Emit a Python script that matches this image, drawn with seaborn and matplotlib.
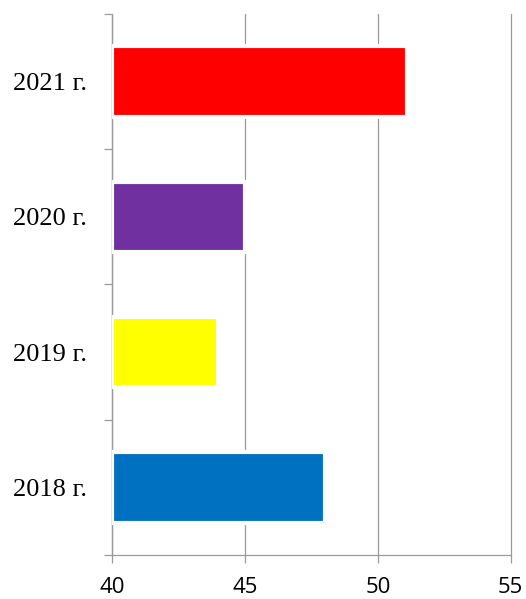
import matplotlib
matplotlib.use("Agg")
import matplotlib.pyplot as plt
import seaborn as sns
import pandas as pd

# data
years = ["2021 г.", "2020 г.", "2019 г.", "2018 г."]
values = [51.1, 45, 44, 48]
colors = ["#FF0000", "#7030A0", "#FFFF00", "#0070C0"]

df = pd.DataFrame({"year": years, "value": values})

sns.set_style("white")
fig = plt.figure(figsize=(5.26, 5.99), dpi=100)
ax = fig.add_axes([0.213, 0.0735, 0.758, 0.9035])

sns.barplot(data=df, x="value", y="year", hue="year", palette=colors,
            saturation=1, orient="h", width=0.52, legend=False, ax=ax,
            edgecolor="white", linewidth=3, zorder=3)

# bars start at 40 (axis minimum)
for p in ax.patches:
    w = p.get_width()
    p.set_x(40)
    p.set_width(w - 40)

ax.set_xlim(40, 55)
ax.set_ylim(3.5, -0.5)
ax.set_xticks([40, 45, 50, 55])
ax.set_xlabel("")
ax.set_ylabel("")

grey = "#9a9a9a"
ax.grid(axis="x", color=grey, linewidth=0.9, zorder=0)
ax.grid(axis="y", visible=False)
ax.set_axisbelow(True)
for gl in ax.get_xgridlines():
    gl.set_clip_on(False)

for s in ["top", "right"]:
    ax.spines[s].set_visible(False)
for s in ["left", "bottom"]:
    ax.spines[s].set_color(grey)
    ax.spines[s].set_linewidth(0.9)

ax.set_yticks([-0.5, 0.5, 1.5, 2.5, 3.5], minor=True)
ax.tick_params(axis="y", which="major", length=0, pad=18)
ax.tick_params(axis="y", which="minor", length=6, color=grey, width=0.9, left=True)
ax.tick_params(axis="x", which="major", length=6, color=grey, width=0.9,
               bottom=True, pad=10)

for lab in ax.get_yticklabels():
    lab.set_fontfamily("Liberation Serif")
    lab.set_fontsize(19)
    lab.set_color("black")
for lab in ax.get_xticklabels():
    lab.set_fontfamily("Open Sans")
    lab.set_fontsize(16)
    lab.set_color("black")

fig.savefig("out.png", dpi=100)
